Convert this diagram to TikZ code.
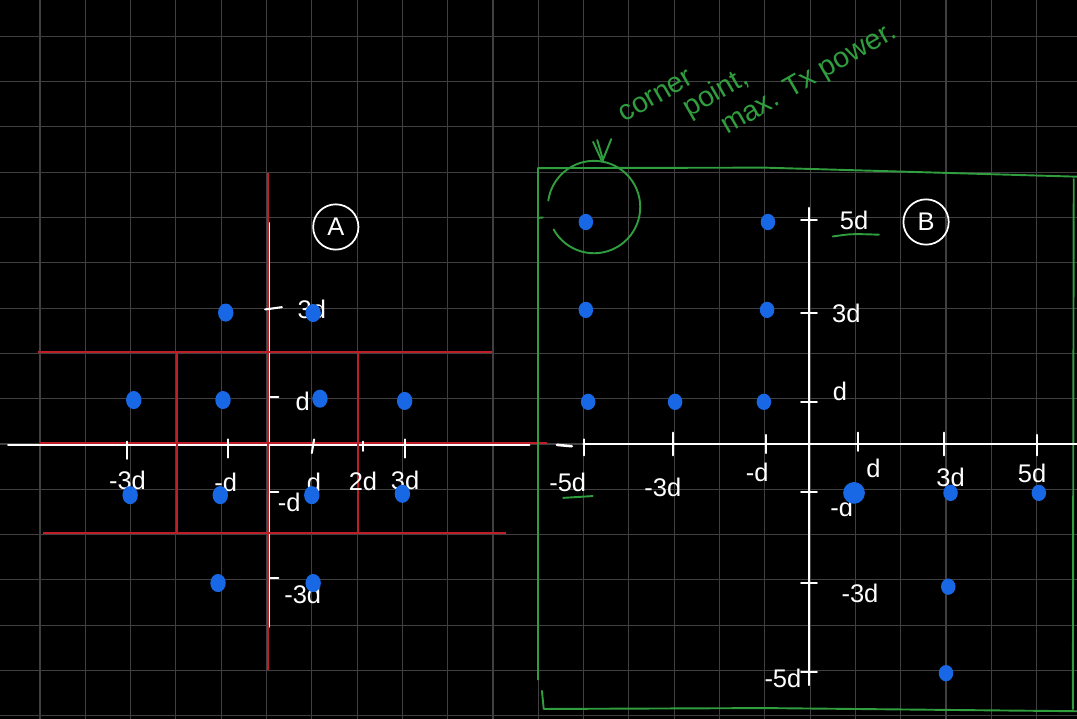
\documentclass[tikz,border=0pt]{standalone}
\usepackage{fontspec}
\setmainfont{Liberation Sans}
\definecolor{boardgray}{RGB}{64,64,64}
\definecolor{penred}{RGB}{190,30,40}
\definecolor{pengreen}{RGB}{48,158,62}
\definecolor{dotblue}{RGB}{24,104,230}
\tikzset{
  gridline/.style={draw=boardgray, line width=0.7pt},
  whitepen/.style={draw=white, line width=1.6pt, line cap=round},
  tickpen/.style={draw=white, line width=1.3pt, line cap=round},
  redpen/.style={draw=penred, line width=1.2pt},
  greenpen/.style={draw=pengreen, line width=1.2pt, line cap=round, line join=round},
  lbl/.style={text=white, font=\fontsize{16}{19}\selectfont, inner sep=0pt},
  note/.style={text=pengreen, font=\fontsize{18}{21}\selectfont, rotate=30, inner sep=0pt},
  circled/.style={draw=white, line width=1.1pt, circle, minimum size=1cm, inner sep=0pt,
    text=white, font=\fontsize{16}{19}\selectfont},
  dot/.style={fill=dotblue}
}
\begin{document}
\begin{tikzpicture}
  % board
  \fill[black] (-0.883,-6.071) rectangle (22.892,9.801);
  \useasboundingbox (-0.883,-6.071) rectangle (22.892,9.801);
  \draw[gridline] (-0.883,-6.071) grid (22.892,9.801);

  % ---- constellation A ----
  \draw[whitepen] (-0.7,-0.02) -- (10.8,-0.02);
  \draw[whitepen] (5.05,4.88) -- (5.05,-4.04);
  \draw[redpen] (0,0.02) -- (11.19,0.02);
  \draw[redpen] (5.03,5.98) -- (5.03,-4.99);
  \draw[redpen] (-0.04,2.03) -- (9.98,2.03);
  \draw[redpen] (0.07,-1.96) -- (10.29,-1.96);
  \draw[redpen] (3.03,2.03) -- (3.03,-1.96);
  \draw[redpen] (7.02,2.03) -- (7.02,-1.96);
  % ticks
  \foreach \x/\a/\b in {1.93/0.05/-0.33, 4.15/0.1/-0.3, 7.13/0.05/-0.15, 8.05/0.1/-0.3}
    \draw[tickpen] (\x,\a) -- (\x,\b);
  \draw[tickpen] (6.05,0.1) -- (6.0,-0.2);
  \draw[tickpen] (4.97,2.97) -- (5.34,3.02);
  \foreach \y in {1.04,-1.06,-2.96}
    \draw[tickpen] (5.08,\y) -- (5.26,\y);
  % labels
  \node[lbl] (ax3m) at (1.93,-0.8) {-3d};
  \node[lbl] (ax1m) at (4.1,-0.84) {-d};
  \node[lbl] (ax1p) at (6.05,-0.84) {d};
  \node[lbl] (ax2p) at (7.13,-0.82) {2d};
  \node[lbl] (ax3p) at (8.06,-0.8) {3d};
  \node[lbl] (ay3p) at (6.0,2.96) {3d};
  \node[lbl] (ay1p) at (5.8,0.95) {d};
  \node[lbl] (ay1m) at (5.5,-1.3) {-d};
  \node[lbl] (ay3m) at (5.8,-3.33) {-3d};
  \node[circled] (tagA) at (6.53,4.79) {A};
  % points
  \foreach \x/\y in {4.1/2.9, 6.03/2.89, 2.07/0.97, 4.04/0.97, 6.18/1.0, 8.05/0.95,
                     1.99/-1.13, 3.98/-1.13, 6.0/-1.13, 8.0/-1.1, 3.93/-3.07, 6.03/-3.07}
    \fill[dot] (\x,\y) ellipse [x radius=0.17, y radius=0.2];

  % ---- constellation B ----
  \draw[greenpen] (11.0,6.09) -- (16,6.1) -- (22.9,5.9);
  \draw[greenpen] (11.0,6.09) -- (11.0,-5.2);
  \draw[greenpen] (11.0,4.99) -- (11.1,5.0);
  \draw[greenpen] (11.08,-5.45) -- (11.12,-5.85) -- (16,-5.83) -- (22.9,-5.9);
  \draw[greenpen] (22.82,5.85) -- (22.8,-5.85);
  % axes
  \draw[whitepen] (12.0,0) -- (22.9,0);
  \draw[whitepen] (11.41,-0.02) -- (11.74,-0.05);
  \draw[whitepen] (16.98,5.21) -- (16.98,-5.32);
  \foreach \x/\a/\b in {12.0/0.1/-0.25, 13.97/0.25/-0.25, 16.03/0.2/-0.2,
                        18.06/0.25/-0.15, 19.96/0.25/-0.25, 22.0/0.2/-0.25}
    \draw[tickpen] (\x,\a) -- (\x,\b);
  \foreach \y in {4.94,2.89,0.93,-1.06,-3.07,-5.03}
    \draw[tickpen] (16.8,\y) -- (17.15,\y);
  % labels
  \node[lbl] (bx5m) at (11.65,-0.84) {-5d};
  \node[lbl] (bx3m) at (13.75,-0.95) {-3d};
  \node[lbl] (bx1m) at (15.83,-0.62) {-d};
  \node[lbl] (bx1p) at (18.4,-0.53) {d};
  \node[lbl] (bx3p) at (20.1,-0.73) {3d};
  \node[lbl] (bx5p) at (21.9,-0.64) {5d};
  \node[lbl] (by5p) at (17.97,4.94) {5d};
  \node[lbl] (by3p) at (17.8,2.89) {3d};
  \node[lbl] (by1p) at (17.66,1.15) {d};
  \node[lbl] (by1m) at (17.7,-1.41) {-d};
  \node[lbl] (by3m) at (18.1,-3.3) {-3d};
  \node[lbl] (by5m) at (16.4,-5.17) {-5d};
  \node[circled] (tagB) at (19.56,4.9) {B};
  \draw[greenpen] (17.5,4.58) .. controls (17.9,4.64) .. (18.52,4.62);
  \draw[greenpen] (11.55,-1.19) -- (12.2,-1.15);
  % points
  \foreach \x/\y in {12.05/4.9, 16.07/4.9, 12.05/2.96, 16.05/2.96, 12.1/0.93, 14.02/0.93,
                     15.98/0.93, 20.1/-1.08, 22.05/-1.08, 20.05/-3.15, 20.0/-5.06}
    \fill[dot] (\x,\y) ellipse [x radius=0.16, y radius=0.18];
  \fill[dot] (17.97,-1.08) circle [radius=0.24];

  % ---- corner note ----
  \draw[greenpen] (12.23,5.23) ++(-151:1.02) arc [start angle=-151, end angle=172, radius=1.02];
  \draw[greenpen] (12.21,6.67) -- (12.41,6.23) -- (12.61,6.73);
  \draw[greenpen] (12.30,6.71) -- (12.43,6.27);
  \node[note] (noteA) at (13.6,7.68) {corner};
  \node[note] (noteB) at (14.92,7.74) {point,};
  \node[note] (noteC) at (16.98,8.04) {max. Tx power.};
\end{tikzpicture}
\end{document}
